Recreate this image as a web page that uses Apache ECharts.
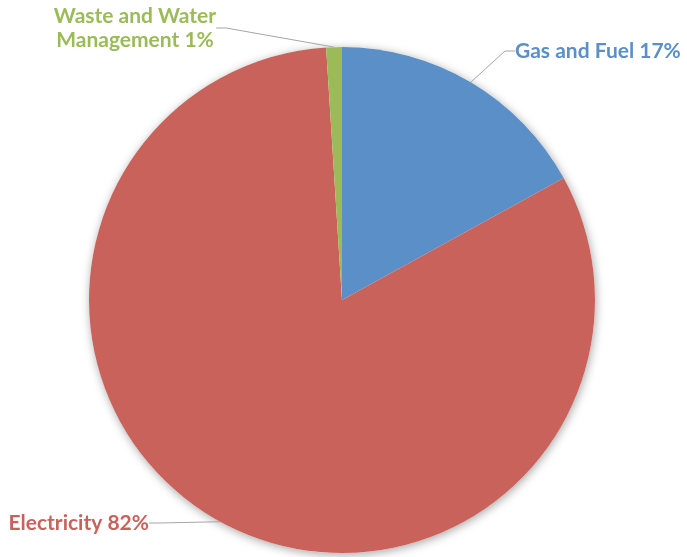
<!DOCTYPE html>
<html>
<head>
<meta charset="utf-8">
<script src="https://cdn.jsdelivr.net/npm/echarts@6/dist/echarts.min.js"></script>
<style>
html,body{margin:0;padding:0;background:#fff;}
#chart{width:687px;height:557px;}
</style>
</head>
<body>
<div id="chart"></div>
<script>
const categories = ["Gas and Fuel", "Electricity", "Waste and Water\nManagement"];
const values = [17, 82, 1];
const colors = ["#5b8fc7", "#c9625a", "#9bbb59"];

// label anchor positions (layout only)
const labelPos = [
  {x: 515, y: 51, align: 'left'},
  {x: 149, y: 523, align: 'right'},
  {x: 135, y: 28, align: 'center'}
];

const chart = echarts.init(document.getElementById('chart'));
chart.setOption({
  animation: false,
  series: [
    {
      type: 'pie',
      silent: true,
      center: [342, 300],
      radius: 253,
      z: 1,
      label: {show: false},
      labelLine: {show: false},
      itemStyle: {color: '#ffffff', shadowBlur: 10, shadowColor: 'rgba(0,0,0,0.35)', shadowOffsetX: 1, shadowOffsetY: 2},
      data: [{value: 1, name: ''}]
    },
    {
      type: 'pie',
      center: [342, 300],
      radius: 253,
      z: 2,
      startAngle: 90,
      clockwise: true,
      data: categories.map((c, i) => ({
        name: c,
        value: values[i],
        itemStyle: {color: colors[i]},
        label: {color: colors[i]}
      })),
      itemStyle: {borderWidth: 0},
      label: {
        show: true,
        position: 'outside',
        formatter: '{b} {d}%',
        fontFamily: 'Lato',
        fontWeight: 'bold',
        fontSize: 21,
        lineHeight: 24
      },
      labelLine: {
        show: true,
        length: 20,
        length2: 10,
        lineStyle: {color: '#a6a6a6', width: 1}
      },
      labelLayout: function (params) {
        const p = labelPos[params.dataIndex];
        return {x: p.x, y: p.y, align: p.align, verticalAlign: 'middle'};
      }
    }
  ]
});
</script>
</body>
</html>
